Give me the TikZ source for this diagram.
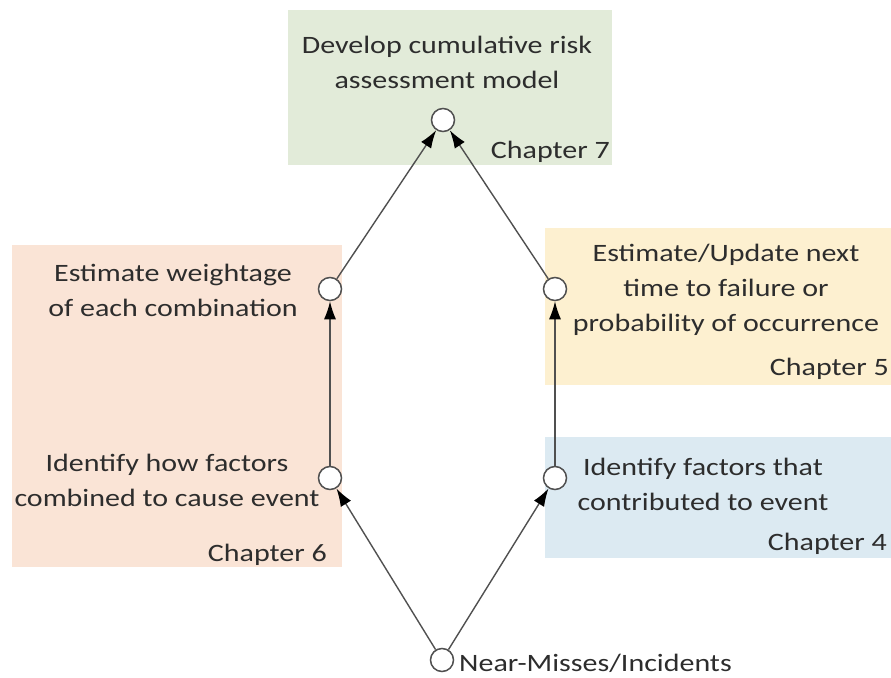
\documentclass[tikz,border=0pt]{standalone}
\usepackage{fontspec}
\setmainfont{Carlito}
\usetikzlibrary{arrows.meta}
\definecolor{boxgreen}{RGB}{226,235,217}
\definecolor{boxpeach}{RGB}{250,228,214}
\definecolor{boxyellow}{RGB}{253,240,208}
\definecolor{boxblue}{RGB}{220,234,242}
\definecolor{inkgray}{RGB}{45,45,45}
\definecolor{linegray}{RGB}{80,80,80}
\tikzset{
  dot/.style={circle,draw=linegray,fill=white,line width=1.5pt,minimum size=23pt,inner sep=0pt},
  txt/.style={text=inkgray,align=center,font=\fontsize{25}{35}\selectfont,xscale=1.2,transform shape},
  chap/.style={text=inkgray,font=\fontsize{25}{35}\selectfont,inner sep=0pt,xscale=1.2,transform shape},
  flow/.style={draw=linegray,line width=1.4pt,-{Latex[length=18pt,width=12pt,fill=black,color=black]}}
}
\begin{document}
\begin{tikzpicture}[x=1pt,y=-1pt]
    \useasboundingbox (0,0) rectangle (891,677);
    % coloured panels
    \fill[boxgreen]  (288,10)  rectangle (612,165);
    \fill[boxpeach]  (12,245)  rectangle (342,567);
    \fill[boxyellow] (545,228) rectangle (891,385);
    \fill[boxblue]   (545,437) rectangle (891,558);
    % texts
    \node[txt] (tmodel)  at (447,62)  {Develop cumulative risk\\assessment model};
    \node[txt] (tweight) at (173,290) {Estimate weightage\\of each combination};
    \node[txt] (thow)    at (167,480) {Identify how factors\\combined to cause event};
    \node[txt] (tnext)   at (726,290) {Estimate/Update next\\time to failure or\\probability of occurrence};
    \node[txt] (tfactor) at (703,484) {Identify factors that\\contributed to event};
    \node[chap,anchor=base east] (ch7) at (610,158) {Chapter 7};
    \node[chap,anchor=base east] (ch6) at (327,561) {Chapter 6};
    \node[chap,anchor=base east] (ch5) at (889,375) {Chapter 5};
    \node[chap,anchor=base east] (ch4) at (887,550) {Chapter 4};
    % circles
    \node[dot] (top)   at (443,120) {};
    \node[dot] (lup)   at (330,289) {};
    \node[dot] (rup)   at (555,289) {};
    \node[dot] (llow)  at (330,478) {};
    \node[dot] (rlow)  at (555,478) {};
    \node[dot] (start) at (442,660) {};
    \node[chap,anchor=base west] (tnear) at (459,671) {Near-Misses/Incidents};
    % connectors
    \foreach \a/\b in {start/llow,start/rlow,llow/lup,rlow/rup,lup/top,rup/top}
    {
        \draw[flow] (\a) -- (\b);
    }
\end{tikzpicture}
\end{document}
